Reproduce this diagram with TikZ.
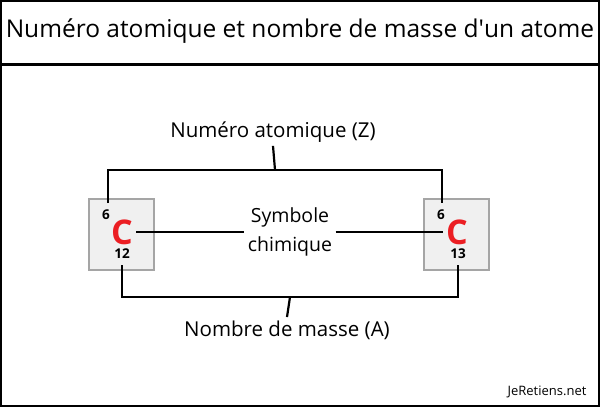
\documentclass[tikz,border=0pt]{standalone}
\usepackage{fontspec}
\setmainfont{Open Sans}
\usetikzlibrary{calc}
\definecolor{boxgray}{RGB}{240,240,240}
\definecolor{edgegray}{RGB}{165,165,165}
\definecolor{symred}{RGB}{235,30,35}

\begin{document}
\begin{tikzpicture}[x=1pt,y=-1pt,
  link/.style={black, line width=2.2pt},
  elem/.style={draw=edgegray, fill=boxgray, line width=1.5pt, minimum width=65pt, minimum height=71pt, inner sep=0pt},
  lab/.style={font=\fontsize{20.5}{24}\selectfont},
  num/.style={font=\fontsize{13.5}{14}\selectfont\bfseries}]
  % Frame and title
  \useasboundingbox (0,0) rectangle (600,407);
  \draw[line width=2pt] (1,1) rectangle (599,406);
  \draw[line width=3pt] (0,64) -- (600,64);
  \node[font=\fontsize{24.5}{28}\selectfont] (title) at (300,31) {Numéro atomique et nombre de masse d\textquotesingle un atome};
  % Element boxes
  \node[elem] (left) at (121.5,234.5) {};
  \node[elem] (right) at (456.5,234.5) {};
  \node[font=\fontsize{34}{36}\selectfont\bfseries, text=symred] (cl) at (122,232) {C};
  \node[num] (zl) at (106,215) {6};
  \node[num] (al) at (122,254) {12};
  \node[font=\fontsize{34}{36}\selectfont\bfseries, text=symred] (cr) at (457,232) {C};
  \node[num] (zr) at (441,215) {6};
  \node[num] (ar) at (458,254) {13};
  % Labels
  \node[lab] (zlab) at (273,132) {Numéro atomique (Z)};
  \node[lab] (alab) at (287,330) {Nombre de masse (A)};
  \node[lab, align=center, font=\fontsize{19.5}{29}\selectfont] (sym) at (290,232) {Symbole\\chimique};
  \node[font=\fontsize{13}{14}\selectfont] (site) at (547,392) {JeRetiens.net};
  % Brackets
  \coordinate (ztop) at (275,170);
  \coordinate (abot) at (290,297);
  \draw[link] (zlab.south) -- (ztop);
  \draw[link] (108,203) |- (ztop) -| (442,203);
  \draw[link] (alab.north) -- (abot);
  \draw[link] (122,265) |- (abot) -| (458,265);
  % Symbol links
  \draw[link] (cl.east) -- (sym.west |- cl.east);
  \draw[link] (sym.east |- cr.west) -- (cr.west);
\end{tikzpicture}
\end{document}
